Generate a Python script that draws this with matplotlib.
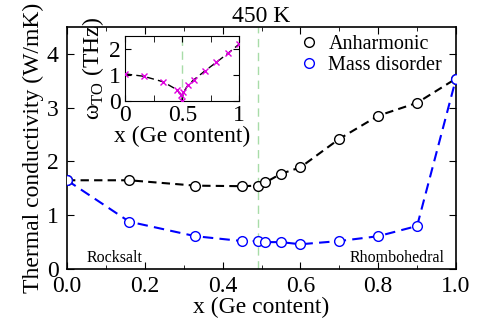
import numpy as np
import matplotlib
matplotlib.use('Agg')
import matplotlib.pyplot as plt
from matplotlib import font_manager
from matplotlib.ticker import MultipleLocator

names = {f.name for f in font_manager.fontManager.ttflist}
serif = [n for n in ['Liberation Serif', 'Times New Roman', 'Nimbus Roman',
                     'DejaVu Serif'] if n in names]
plt.rcParams['font.family'] = 'serif'
plt.rcParams['font.serif'] = serif
plt.rcParams['mathtext.fontset'] = 'custom'
plt.rcParams['mathtext.rm'] = serif[0]

# Ge content of the alloys
x_ge = [0.0, 0.16, 0.33, 0.45, 0.49, 0.51, 0.55, 0.60, 0.70, 0.80, 0.90, 1.0]

# Thermal conductivity (W/mK) at 450 K
k_anh = [1.65, 1.65, 1.55, 1.54, 1.55, 1.61, 1.77, 1.89, 2.42, 2.85, 3.09, 3.54]
k_mass = [1.65, 0.88, 0.61, 0.52, 0.52, 0.50, 0.50, 0.46, 0.52, 0.61, 0.80, 3.54]

# TO phonon frequency (THz) for the inset
x_to = [0.0, 0.16, 0.33, 0.45, 0.49, 0.495, 0.51, 0.55, 0.60, 0.70, 0.80, 0.90, 1.0]
w_to = [1.03, 0.94, 0.73, 0.43, 0.22, 0.0, 0.32, 0.60, 0.80, 1.15, 1.48, 1.82, 2.18]

x_transition = 0.49
fs = 17

fig = plt.figure(figsize=(4.8, 3.36), dpi=100)
ax = fig.add_axes([0.1396, 0.1994, 0.8104, 0.7202])

ax.axvline(x_transition, color='#a8dca8', ls=(0, (6, 4)), lw=1.0, zorder=1)
ax.plot(x_ge, k_anh, color='black', ls=(0, (4, 2.5)), lw=1.5, zorder=2)
ax.plot(x_ge, k_mass, color='blue', ls=(0, (5, 3)), lw=1.5, zorder=2)
ax.plot(x_ge, k_anh, 'o', mfc='white', mec='black', ms=7, mew=1.0,
        ls='none', label='Anharmonic', zorder=3)
ax.plot(x_ge, k_mass, 'o', mfc='white', mec='blue', ms=7, mew=1.0,
        ls='none', label='Mass disorder', zorder=3)

ax.set_xlim(0, 1)
ax.set_ylim(0, 4.5)
ax.set_xticks(np.arange(0, 1.01, 0.2))
ax.set_xticklabels([f'{v:.1f}' for v in np.arange(0, 1.01, 0.2)])
ax.xaxis.set_minor_locator(MultipleLocator(0.1))
ax.yaxis.set_major_locator(MultipleLocator(1))
ax.tick_params(direction='in', which='both', top=True, right=True,
               labelsize=fs)
ax.tick_params(axis='x', pad=5)
ax.tick_params(axis='y', pad=6)
ax.tick_params(which='major', length=5)
ax.tick_params(which='minor', length=3)
for s in ax.spines.values():
    s.set_linewidth(1.2)

ax.set_xlabel('x (Ge content)', fontsize=fs, labelpad=0)
ax.set_ylabel('Thermal conductivity (W/mK)', fontsize=fs, labelpad=2)
ax.set_title('450 K', fontsize=fs, pad=3)

ax.text(0.05, 0.21, 'Rocksalt', fontsize=11.5, va='center', ha='left')
ax.text(0.97, 0.21, 'Rhombohedral', fontsize=11.5, va='center', ha='right')

ax.legend(loc='upper right', frameon=False, fontsize=14.5, handletextpad=0.35,
          handlelength=1.2, labelspacing=0.1, borderaxespad=0.0,
          bbox_to_anchor=(0.985, 1.0))

# inset: TO mode frequency
ins = fig.add_axes([0.261, 0.7003, 0.2375, 0.1935])
ins.axvline(0.5, color='#a8dca8', ls=(0, (6, 4)), lw=1.0, zorder=1)
ins.plot(x_to, w_to, color='black', ls=(0, (5, 3)), lw=1.0, zorder=2)
ins.plot(x_to, w_to, 'x', color='#e000e0', ms=4.5, mew=1.0, ls='none', zorder=3)
ins.set_xlim(0, 1)
ins.set_ylim(0, 2.5)
ins.set_xticks([0, 0.5, 1])
ins.set_xticklabels(['0', '0.5', '1'])
ins.xaxis.set_minor_locator(MultipleLocator(0.25))
ins.yaxis.set_major_locator(MultipleLocator(1))
ins.tick_params(direction='in', which='both', top=True, right=True,
                labelsize=fs, pad=3)
ins.tick_params(which='major', length=4)
ins.tick_params(which='minor', length=4)
ins.set_xlabel('x (Ge content)', fontsize=fs, labelpad=0)
ins.set_ylabel('ω$_{\\mathrm{TO}}$ (THz)', fontsize=fs, labelpad=2)

fig.savefig('out.png', dpi=100)
